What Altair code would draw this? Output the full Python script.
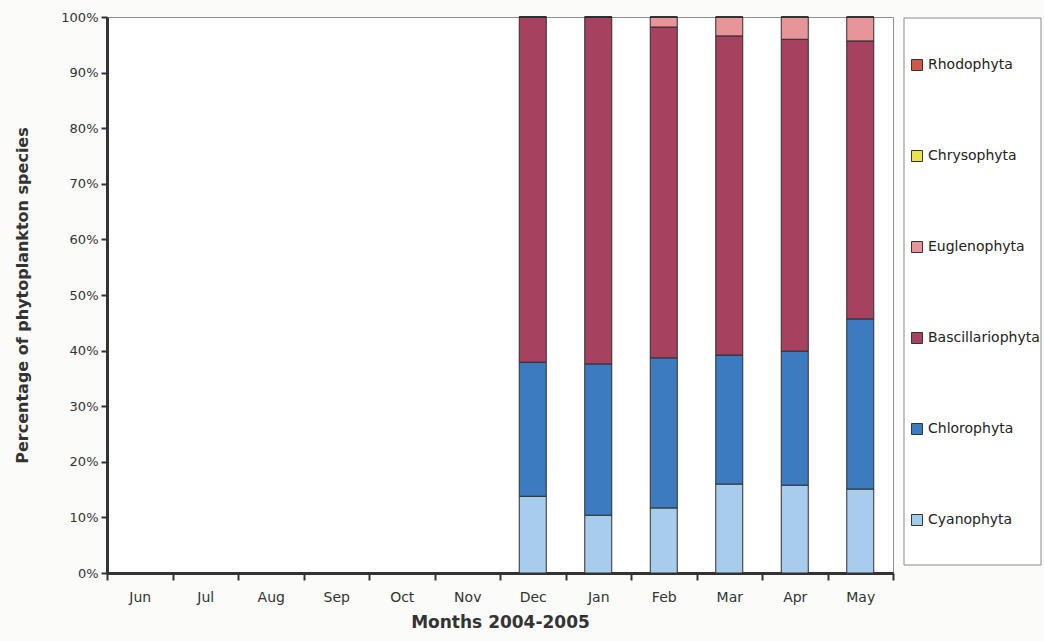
import altair as alt
import pandas as pd

# Sampling months and the phytoplankton groups (bottom of stack first)
months = ["Jun", "Jul", "Aug", "Sep", "Oct", "Nov", "Dec", "Jan", "Feb", "Mar", "Apr", "May"]
sampled = ["Dec", "Jan", "Feb", "Mar", "Apr", "May"]
groups = ["Cyanophyta", "Chlorophyta", "Bascillariophyta", "Euglenophyta", "Chrysophyta", "Rhodophyta"]
legend_order = ["Rhodophyta", "Chrysophyta", "Euglenophyta", "Bascillariophyta", "Chlorophyta", "Cyanophyta"]
colors = {
    "Rhodophyta": "#cc5a48",
    "Chrysophyta": "#ece24a",
    "Euglenophyta": "#e8959a",
    "Bascillariophyta": "#a6415f",
    "Chlorophyta": "#3d7bc0",
    "Cyanophyta": "#a8cdec",
}

# Percentage share of each group per sampled month
cyanophyta = [13.8, 10.4, 11.7, 16.0, 15.8, 15.1]
chlorophyta = [24.1, 27.2, 27.0, 23.2, 24.1, 30.6]
bascillariophyta = [62.1, 62.4, 59.5, 57.4, 56.1, 50.0]
euglenophyta = [0.0, 0.0, 1.8, 3.4, 4.0, 4.3]
chrysophyta = [0.0, 0.0, 0.0, 0.0, 0.0, 0.0]
rhodophyta = [0.0, 0.0, 0.0, 0.0, 0.0, 0.0]

series = [cyanophyta, chlorophyta, bascillariophyta, euglenophyta, chrysophyta, rhodophyta]
rows = []
for gi, (g, vals) in enumerate(zip(groups, series)):
    for m, v in zip(sampled, vals):
        rows.append({"month": m, "group": g, "pct": v, "stack": gi})
df = pd.DataFrame(rows)

FONT = "DejaVu Sans"

# Framed panel that holds the legend
legend_frame = alt.Chart(pd.DataFrame({"k": [0]})).mark_rect(
    fill="#ffffff", stroke="#8a8a8a", strokeWidth=1
).encode(
    x=alt.value(797), x2=alt.value(934), y=alt.value(1), y2=alt.value(548)
)

bars = alt.Chart(df).mark_bar(size=27, stroke="#2e2e2e", strokeWidth=1).encode(
    x=alt.X(
        "month:N",
        sort=months,
        scale=alt.Scale(domain=months, paddingInner=0, paddingOuter=0),
        axis=alt.Axis(
            title="Months 2004-2005",
            labelAngle=0,
            tickBand="extent",
            tickSize=7,
            labelPadding=10,
            labelFontSize=14,
            titlePadding=10,
            titleFontSize=17,
        ),
    ),
    y=alt.Y(
        "pct:Q",
        stack="zero",
        scale=alt.Scale(domain=[0, 100], nice=False),
        axis=alt.Axis(
            title="Percentage of phytoplankton species",
            values=list(range(0, 101, 10)),
            labelExpr="datum.value + '%'",
            tickSize=6,
            labelPadding=3,
            labelFontSize=13,
            titlePadding=30,
            titleFontSize=16,
        ),
    ),
    color=alt.Color(
        "group:N",
        sort=legend_order,
        title=None,
        scale=alt.Scale(domain=legend_order, range=[colors[g] for g in legend_order]),
        legend=alt.Legend(
            orient="none",
            legendX=803,
            legendY=41,
            symbolType="square",
            symbolSize=121,
            symbolStrokeColor="#333333",
            symbolStrokeWidth=1,
            symbolOpacity=1,
            labelFontSize=14,
            labelFont=FONT,
            labelColor="#222222",
            labelLimit=200,
            labelOffset=4,
            rowPadding=75,
            padding=0,
        ),
    ),
    order=alt.Order("stack:Q", sort="ascending"),
)

chart = (
    alt.layer(legend_frame, bars)
    .properties(width=786, height=556, background="#fbfbfa")
    .configure(padding={"left": 107, "top": 17, "right": 151, "bottom": 68}, autosize="none")
    .configure_view(stroke="#8f8f8f", strokeWidth=1, fill="#ffffff")
    .configure_axis(
        domainColor="#333333",
        domainWidth=3,
        tickColor="#333333",
        tickWidth=2,
        grid=False,
        labelFont=FONT,
        labelColor="#333333",
        titleFont=FONT,
        titleFontWeight="bold",
        titleColor="#333333",
    )
)

chart.save("out.html", embed_options={"renderer": "svg", "actions": False})
